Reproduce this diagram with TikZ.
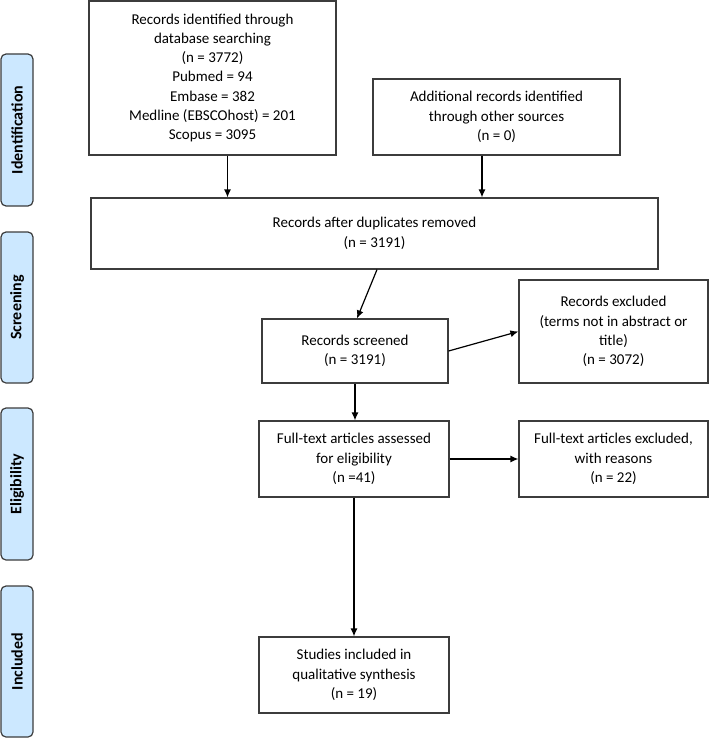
\documentclass[tikz,border=0pt]{standalone}
\usepackage{fontspec}
\setmainfont{Carlito}
\usetikzlibrary{arrows.meta}
\definecolor{phaseblue}{RGB}{204,232,255}
\definecolor{edge}{RGB}{60,60,60}
\begin{document}
\begin{tikzpicture}[x=1pt,y=-1pt,
 box/.style={draw=edge, line width=1.2pt, align=center, inner sep=0pt,
   font=\fontsize{15}{19.3}\selectfont},
 phase/.style={draw=edge, fill=phaseblue, line width=1.2pt, rounded corners=5pt,
   rotate=90, inner sep=0pt, minimum height=32pt,
   font=\bfseries\fontsize{16}{18}\selectfont},
 conn/.style={-{Latex[length=8pt,width=7pt]}, line width=1.2pt, draw=black}]
\useasboundingbox (0,0) rectangle (709,738);

% phase labels
\node[phase, minimum width=152pt] (pid) at (17,130) {Identification};
\node[phase, minimum width=151pt] (psc) at (17,307.5) {Screening};
\node[phase, minimum width=152pt] (pel) at (17,484) {Eligibility};
\node[phase, minimum width=151pt] (pin) at (17,661.5) {Included};

% boxes
\node[box, minimum width=247pt, minimum height=154pt] (b1) at (212.5,78)
 {Records identified through\\database searching\\(n = 3772)\\Pubmed = 94\\Embase = 382\\Medline (EBSCOhost) = 201\\Scopus = 3095};
\node[box, minimum width=247pt, minimum height=76pt] (add) at (496.5,117)
 {Additional records identified\\through other sources\\(n = 0)};
\node[box, minimum width=567pt, minimum height=71pt] (dup) at (374.5,233.5)
 {\raisebox{4pt}{\begin{tabular}{@{}c@{}}Records after duplicates removed\\(n = 3191)\end{tabular}}};
\node[box, minimum width=186pt, minimum height=64pt] (scr) at (355,351)
 {Records screened\\(n = 3191)};
\node[box, minimum width=189pt, minimum height=103pt] (exc) at (613.5,331.5)
 {Records excluded\\(terms not in abstract or\\title)\\(n = 3072)};
\node[box, minimum width=190pt, minimum height=76pt] (eli) at (354,459)
 {Full-text articles assessed\\for eligibility\\(n =41)};
\node[box, minimum width=189pt, minimum height=76pt] (ftx) at (613.5,459)
 {Full-text articles excluded,\\with reasons\\(n = 22)};
\node[box, minimum width=190pt, minimum height=76pt] (inc) at (354,675)
 {Studies included in\\qualitative synthesis\\(n = 19)};

% connectors
\draw[conn] ([xshift=15pt]b1.south) -- ([xshift=15pt]b1.south |- dup.north);
\draw[conn] ([xshift=-14.5pt]add.south) -- ([xshift=-14.5pt]add.south |- dup.north);
\draw[conn] ([xshift=2.5pt]dup.south) -- ([xshift=2pt]scr.north);
\draw[conn] (scr.east) -- (exc.west);
\draw[conn] (scr.south) -- (scr.south |- eli.north);
\draw[conn] (eli.east) -- (ftx.west);
\draw[conn] (eli.south) -- (inc.north);
\end{tikzpicture}
\end{document}
